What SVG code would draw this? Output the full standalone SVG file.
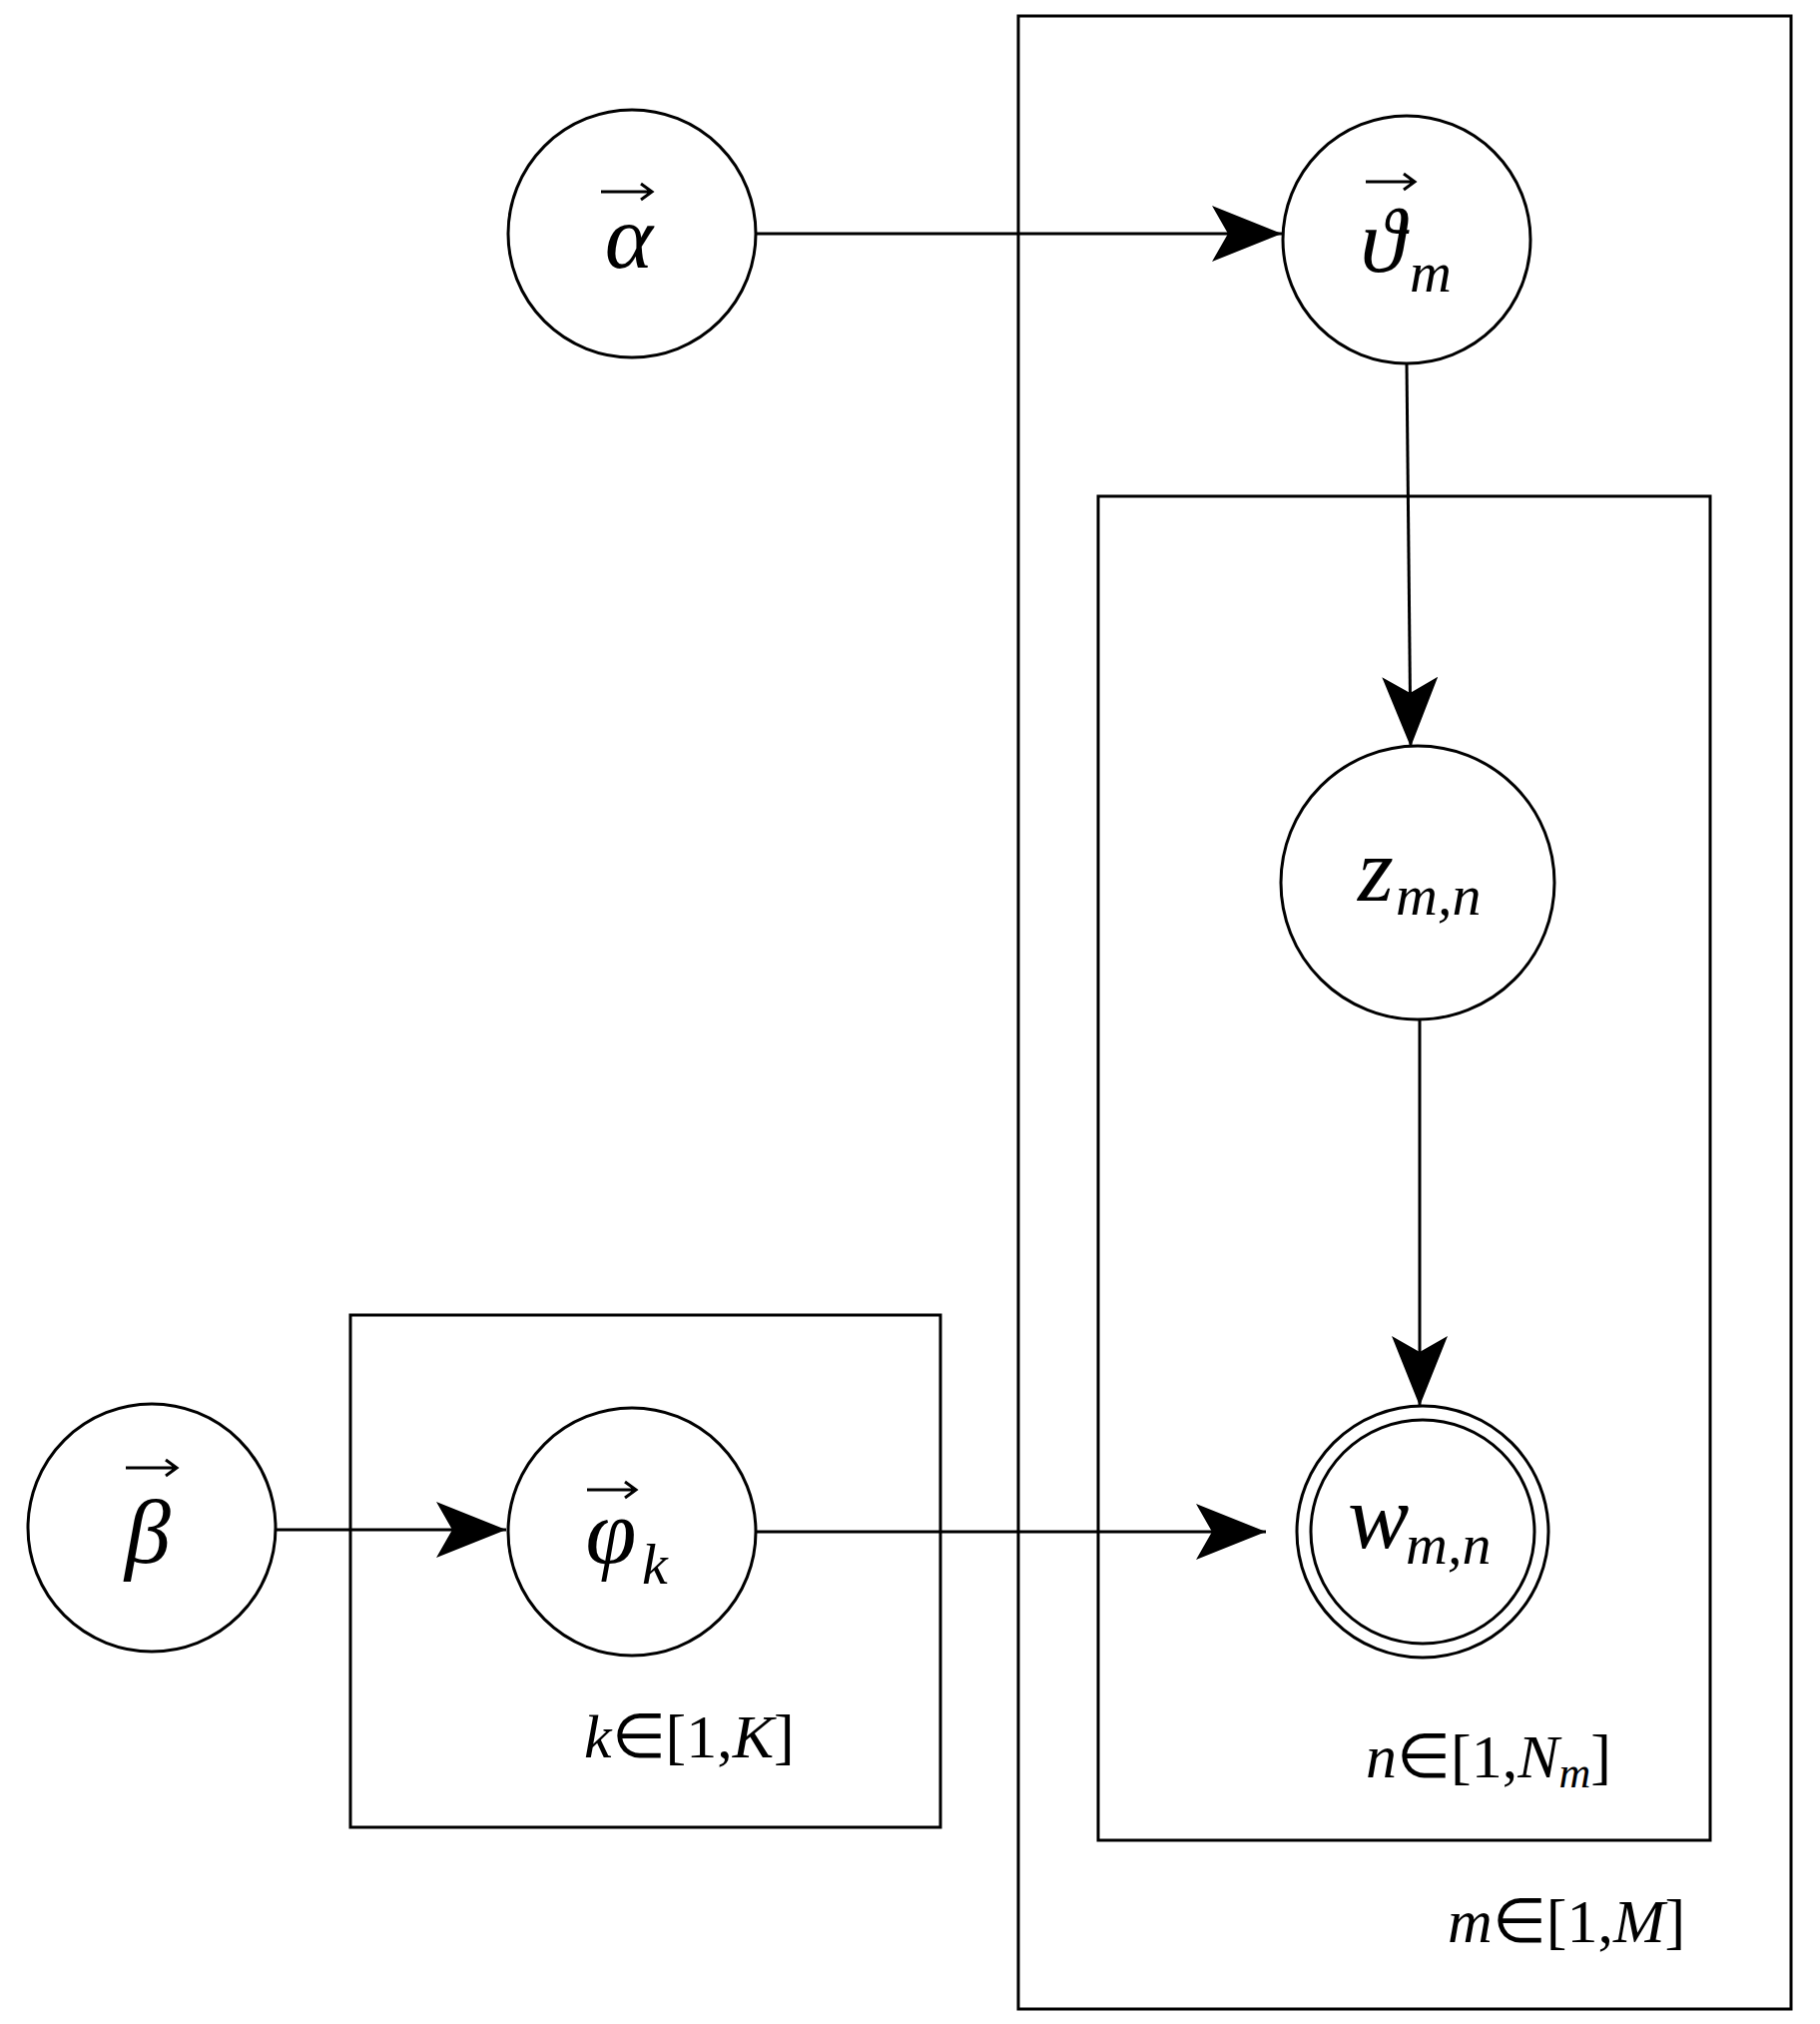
<svg xmlns="http://www.w3.org/2000/svg" width="1823" height="2027" viewBox="0 0 1823 2027">
<style>
.plate{fill:none;stroke:#000;stroke-width:3}
.node{fill:#fff;stroke:#000;stroke-width:3}
.e{stroke:#000;stroke-width:3;fill:none}
.vec{stroke:#000;stroke-width:3;fill:none}
.t{font-family:"Liberation Serif",serif;font-style:italic;font-size:92px;fill:#000}
.s{font-family:"Liberation Serif",serif;font-style:italic;font-size:58px;fill:#000}
.p{font-family:"Liberation Serif",serif;font-size:62px;fill:#000}
</style>
<defs>
<marker id="ah" markerWidth="70" markerHeight="56" refX="70" refY="28" markerUnits="userSpaceOnUse" orient="auto">
<path d="M0,0 L70,28 L0,56 L16,28 Z" fill="#000"/>
</marker>
</defs>
<g id="plates">
<rect class="plate" x="1020" y="16" width="774" height="1996"/>
<rect class="plate" x="1100" y="497" width="613" height="1346"/>
<rect class="plate" x="351" y="1317" width="591" height="513"/>
<text class="p" x="585" y="1760"><tspan font-style="italic">k</tspan>∈[1,<tspan font-style="italic">K</tspan>]</text>
<text class="p" x="1368" y="1780"><tspan font-style="italic">n</tspan>∈[1,<tspan font-style="italic">N</tspan><tspan font-style="italic" font-size="44" dy="10">m</tspan><tspan dy="-10">]</tspan></text>
<text class="p" x="1450" y="1945"><tspan font-style="italic">m</tspan>∈[1,<tspan font-style="italic">M</tspan>]</text>
</g>
<g id="connectors">
<line class="e" x1="757" y1="234" x2="1284" y2="234" marker-end="url(#ah)"/>
<line class="e" x1="1409" y1="364" x2="1413" y2="748" marker-end="url(#ah)"/>
<line class="e" x1="1422" y1="1020" x2="1422" y2="1408" marker-end="url(#ah)"/>
<line class="e" x1="276" y1="1532" x2="507" y2="1532" marker-end="url(#ah)"/>
<line class="e" x1="757" y1="1534" x2="1268" y2="1534" marker-end="url(#ah)"/>
</g>
<g id="alpha"><circle class="node" cx="633" cy="234" r="124"/>
<text class="t" x="630" y="268" text-anchor="middle">α</text>
<path class="vec" d="M602,192 H652 M642,184 L653,192 L642,200"/></g>
<g id="theta"><circle class="node" cx="1409" cy="240" r="124"/>
<text class="t" x="1385" y="272" text-anchor="middle">ϑ</text><text class="s" x="1412" y="292">m</text>
<path class="vec" d="M1368,182 H1416 M1406,174 L1417,182 L1406,190"/></g>
<g id="z"><circle class="node" cx="1420" cy="884" r="137"/>
<text class="t" x="1360" y="902">z</text><text class="s" x="1398" y="916">m,n</text></g>
<g id="w"><circle class="node" cx="1425" cy="1534" r="126"/><circle class="node" cx="1425" cy="1534" r="112"/>
<text class="t" x="1350" y="1550">w</text><text class="s" x="1408" y="1566">m,n</text></g>
<g id="beta"><circle class="node" cx="152" cy="1530" r="124"/>
<text class="t" x="148" y="1565" text-anchor="middle">β</text>
<path class="vec" d="M126,1470 H176 M166,1462 L177,1470 L166,1478"/></g>
<g id="phi"><circle class="node" cx="633" cy="1534" r="124"/>
<text class="t" x="612" y="1565" text-anchor="middle">φ</text><text class="s" x="643" y="1586">k</text>
<path class="vec" d="M588,1492 H636 M626,1484 L637,1492 L626,1500"/></g>
</svg>
